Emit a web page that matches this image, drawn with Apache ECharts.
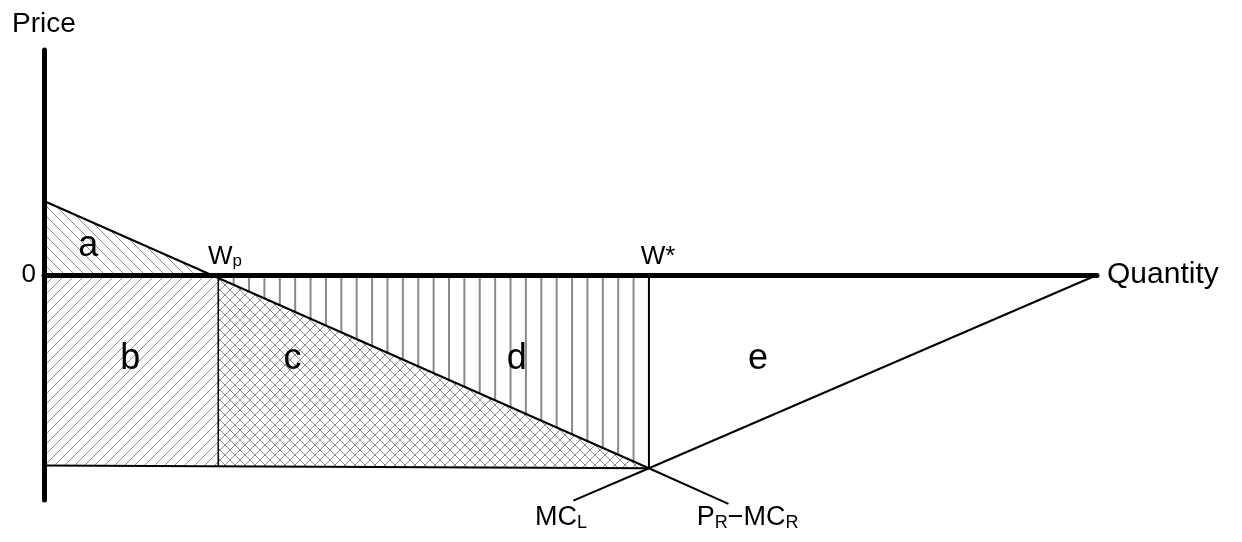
<!DOCTYPE html>
<html><head><meta charset="utf-8">
<script src="https://cdn.jsdelivr.net/npm/echarts@6/dist/echarts.min.js"></script>
<style>html,body{margin:0;padding:0;background:#fff}#c{width:1242px;height:542px}</style>
</head><body><div id="c"></div>
<script>
// ---------- data (quantity on x, price on y) ----------
const qRange = [0, 100];
const pRange = [-10, 10];
const priceTicks = [0];
const wp = 16.55;            // W_p
const wStar = 57.45;         // W*
const prMcrX = [0, 57.45, 65.0];      // P_R − MC_R line
const prMcrY = [3.29, -8.59, -10.17];
const mclX = [100, 57.45, 50.27];     // MC_L line
const mclY = [0, -8.59, -10.03];
const floorX = [0, 57.45];
const floorY = [-8.47, -8.59];
const wpLineY = [0, -8.50];
const wStarLineY = [0, -8.59];
const areaNames = ['a', 'b', 'c', 'd', 'e'];
const areaX = [4.21, 8.2, 23.6, 44.89, 67.8];
const areaY = [1.29, -3.73, -3.73, -3.73, -3.73];
const wNames = ['W{s|p}', 'W*'];
const wX = [15.57, 56.67];
const wY = [0.8, 0.8];
const curveNames = ['MC{s|L}', 'P{s|R}\u2212MC{s|R}'];
const curveX = [46.63, 61.98];
const curveY = [-10.8, -10.8];
const axisNames = ['Quantity', 'Price'];

// ---------- helpers ----------
const FONT = "'Liberation Sans', Arial, sans-serif";
const slope = (prMcrY[1] - prMcrY[0]) / (prMcrX[1] - prMcrX[0]);
const prY = x => prMcrY[0] + slope * (x - prMcrX[0]);
const x0 = prMcrX[0] - prMcrY[0] / slope;   // where P_R−MC_R crosses 0

function makePattern(kind) {
  const s = 10, cv = document.createElement('canvas');
  cv.width = s; cv.height = s;
  const g = cv.getContext('2d');
  g.strokeStyle = '#8c8c8c'; g.lineWidth = 1;
  const seg = (a, b, c, d) => { g.beginPath(); g.moveTo(a, b); g.lineTo(c, d); g.stroke(); };
  if (kind === 'fwd' || kind === 'cross') { seg(-2, 12, 12, -2); seg(-2, 2, 2, -2); seg(8, 12, 12, 8); }
  if (kind === 'back' || kind === 'cross') { seg(-2, -2, 12, 12); seg(8, -2, 12, 2); seg(-2, 8, 2, 12); }
  return { image: cv, repeat: 'repeat' };
}

const regions = [
  { pts: [[0, 0], [0, prMcrY[0]], [x0, 0]], fill: makePattern('back') },
  { pts: [[0, 0], [wp, 0], [wp, wpLineY[1]], [floorX[0], floorY[0]]], fill: makePattern('fwd') },
  { pts: [[wp, prY(wp)], [wp, wpLineY[1]], [floorX[1], floorY[1]]], fill: makePattern('cross') }
];
const hatchCount = 28;
const hatchIdx = [];
for (let k = 1; k < hatchCount; k++) hatchIdx.push(k);

const zip = (xs, ys) => xs.map((x, i) => [x, ys[i]]);
const lineSeries = (data, width) => ({
  type: 'line', data, showSymbol: false, symbol: 'none', clip: false, silent: true, z: 4,
  lineStyle: { color: '#000', width: width }, animation: false
});
const labelSeries = (names, xs, ys, label) => ({
  type: 'scatter', symbolSize: 0, clip: false, silent: true, z: 8,
  itemStyle: { opacity: 1 },
  data: names.map((n, i) => ({ name: n, value: [xs[i], ys[i]] })),
  label: Object.assign({ show: true, formatter: '{b}', color: '#000', fontFamily: FONT, opacity: 1 }, label)
});

const chart = echarts.init(document.getElementById('c'), null, { renderer: 'canvas' });
chart.setOption({
  animation: false,
  backgroundColor: '#fff',
  grid: { left: 44, top: 50, width: 1053, height: 450, containLabel: false, outerBoundsMode: 'none' },
  xAxis: {
    type: 'value', min: qRange[0], max: qRange[1], z: 6,
    axisLine: { show: true, onZero: true, lineStyle: { color: '#000', width: 5, cap: 'round' } },
    axisTick: { show: false }, axisLabel: { show: false }, splitLine: { show: false },
    name: axisNames[0], nameLocation: 'end', nameGap: 10,
    nameTextStyle: { color: '#000', fontSize: 30, fontFamily: FONT }
  },
  yAxis: {
    type: 'value', min: pRange[0], max: pRange[1], interval: 10, z: 6,
    axisLine: { show: true, onZero: true, lineStyle: { color: '#000', width: 5, cap: 'round' } },
    axisTick: { show: false }, splitLine: { show: false },
    axisLabel: { show: true, margin: 8, color: '#000', fontSize: 26, fontFamily: FONT,
      formatter: v => priceTicks.indexOf(v) >= 0 ? String(v) : '' },
    name: axisNames[1], nameLocation: 'end', nameGap: 12,
    nameTextStyle: { color: '#000', fontSize: 28, fontFamily: FONT }
  },
  series: [
    {
      type: 'custom', coordinateSystem: 'cartesian2d', clip: false, silent: true, z: 1,
      data: regions.map(r => r.pts[0]),
      renderItem: (params, api) => {
        const r = regions[params.dataIndex];
        return { type: 'polygon', shape: { points: r.pts.map(p => api.coord(p)) },
          style: { fill: r.fill, stroke: null } };
      }
    },
    {
      type: 'custom', coordinateSystem: 'cartesian2d', clip: false, silent: true, z: 2,
      data: hatchIdx.map(k => [wp + k * (wStar - wp) / hatchCount, 0]),
      renderItem: (params, api) => {
        const x = wp + hatchIdx[params.dataIndex] * (wStar - wp) / hatchCount;
        const a = api.coord([x, 0]), b = api.coord([x, prY(x)]);
        return { type: 'line', shape: { x1: a[0], y1: a[1], x2: b[0], y2: b[1] },
          style: { stroke: '#8a8a8a', lineWidth: 2 } };
      }
    },
    lineSeries(zip(prMcrX, prMcrY), 2),
    lineSeries(zip(mclX, mclY), 2),
    lineSeries(zip(floorX, floorY), 2),
    lineSeries([[wp, wpLineY[0]], [wp, wpLineY[1]]], 1.6),
    lineSeries([[wStar, wStarLineY[0]], [wStar, wStarLineY[1]]], 2),
    labelSeries(areaNames, areaX, areaY, { position: 'inside', fontSize: 36 }),
    labelSeries(wNames, wX, wY, { position: 'right', distance: 0, fontSize: 26,
      rich: { s: { fontSize: 17, color: '#000', fontFamily: FONT, padding: [9, 0, 0, 0] } } }),
    labelSeries(curveNames, curveX, curveY, { position: 'right', distance: 0, fontSize: 27,
      rich: { s: { fontSize: 18, color: '#000', fontFamily: FONT, padding: [10, 0, 0, 0] } } })
  ]
});
</script>
</body></html>
